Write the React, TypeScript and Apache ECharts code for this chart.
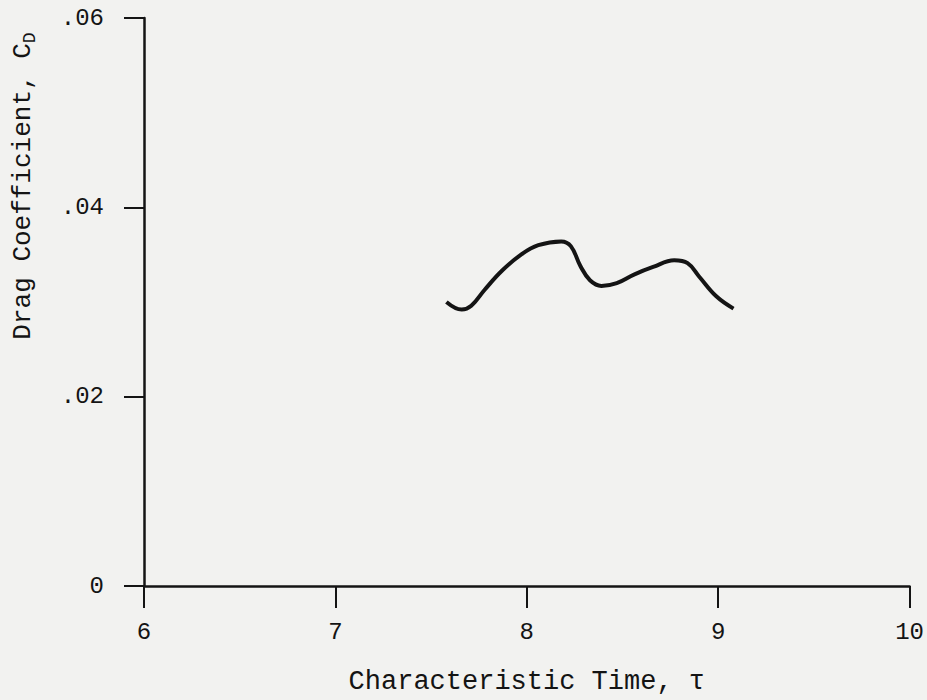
import React, { useEffect, useRef } from "react";
import * as echarts from "echarts";

const tau = [7.58, 7.66, 7.71, 7.78, 7.87, 7.97, 8.06, 8.18, 8.23, 8.28, 8.33, 8.39, 8.47, 8.56, 8.66, 8.77, 8.84, 8.9, 8.99, 9.08];
const cd = [0.0300, 0.0292, 0.0296, 0.0313, 0.0333, 0.0350, 0.0360, 0.0364, 0.0359, 0.0338, 0.0323, 0.0317, 0.0320, 0.0329, 0.0337, 0.0344, 0.0341, 0.0327, 0.0306, 0.0293];

const xTitle = "Characteristic Time, τ";
const yTitle = "Drag Coefficient, C";
const ySub = "D";

const FONT = "Liberation Mono";
const INK = "#141414";

export default function App() {
  const ref = useRef<HTMLDivElement>(null);
  useEffect(() => {
    if (!ref.current) return;
    const chart = echarts.init(ref.current, undefined, { renderer: "svg" });
    chart.setOption({
      animation: false,
      backgroundColor: "#f2f2f0",
      grid: { left: 144, right: 7, top: 18, bottom: 110 },
      xAxis: {
        type: "value",
        min: 6,
        max: 10,
        interval: 1,
        name: xTitle,
        nameLocation: "middle",
        nameGap: 82,
        nameTextStyle: { fontFamily: FONT, fontSize: 27, color: INK },
        axisLine: { show: true, lineStyle: { color: INK, width: 2.5 } },
        axisTick: { show: true, inside: false, length: 22, lineStyle: { color: INK, width: 2 } },
        axisLabel: { margin: 34, fontFamily: FONT, fontSize: 24, color: INK },
        splitLine: { show: false },
      },
      yAxis: {
        type: "value",
        min: 0,
        max: 0.06,
        interval: 0.02,
        axisLine: { show: true, lineStyle: { color: INK, width: 2.5 } },
        axisTick: { show: true, inside: false, length: 20, lineStyle: { color: INK, width: 2 } },
        axisLabel: {
          margin: 40,
          fontFamily: FONT,
          fontSize: 24,
          color: INK,
          formatter: (v: number) => (v === 0 ? "0" : v.toFixed(2).replace(/^0/, "")),
        },
        splitLine: { show: false },
      },
      graphic: [
        {
          type: "text",
          x: 23,
          y: 186,
          rotation: Math.PI / 2,
          style: {
            text: yTitle + "{s|" + ySub + "}",
            fontFamily: FONT,
            fontSize: 26,
            fill: INK,
            textAlign: "center",
            textVerticalAlign: "middle",
            rich: {
              s: { fontFamily: FONT, fontSize: 18, fill: INK, padding: [14, 0, 0, 0] },
            },
          },
        },
      ],
      series: [
        {
          type: "line",
          data: tau.map((t, i) => [t, cd[i]]),
          smooth: 0.4,
          showSymbol: false,
          lineStyle: { color: INK, width: 4 },
        },
      ],
    });
    return () => chart.dispose();
  }, []);
  return (
    <div
      ref={ref}
      style={{ position: "fixed", left: 0, top: 0, width: 927, height: 700 }}
    />
  );
}
